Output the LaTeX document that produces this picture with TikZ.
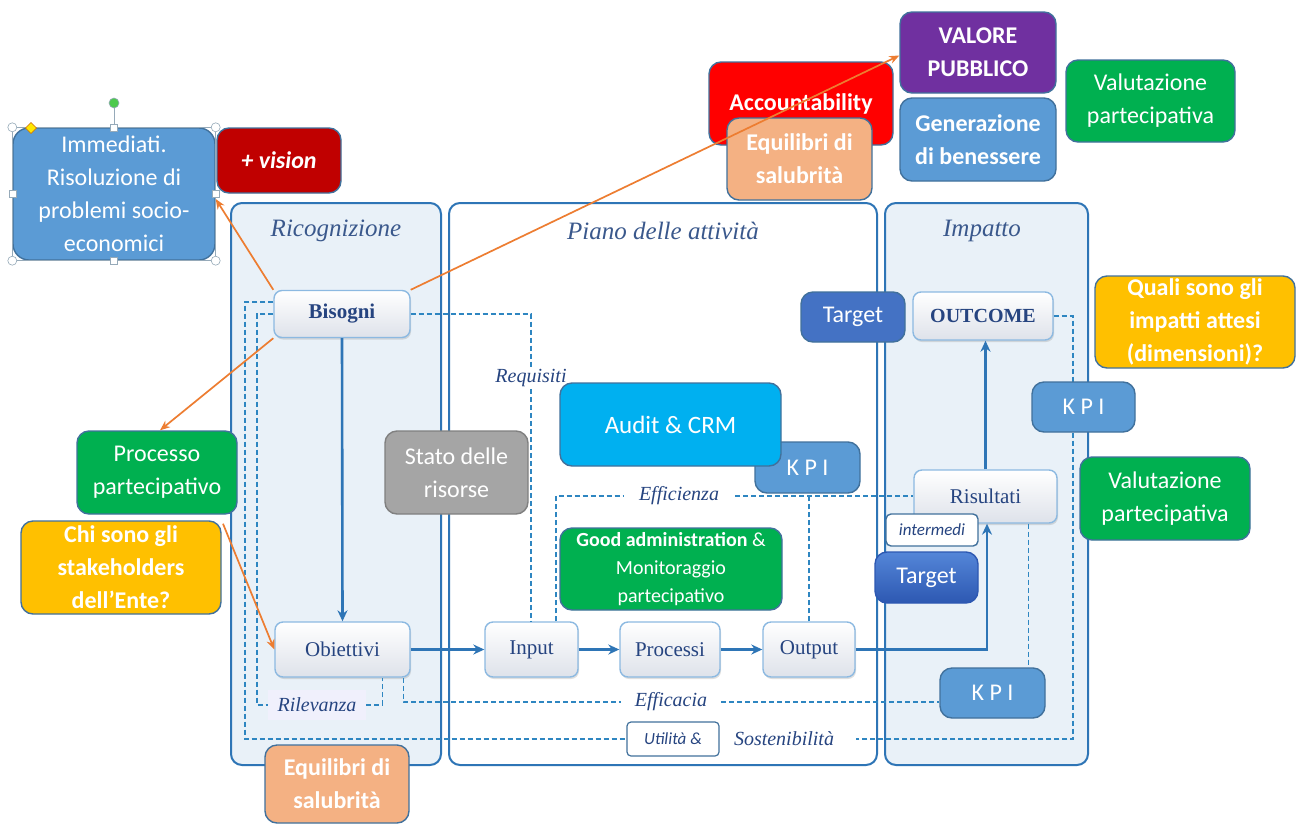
\documentclass[tikz,border=0pt]{standalone}
\usepackage{fontspec}
\setmainfont{Liberation Serif}
\newfontfamily\calf{Carlito}
\usetikzlibrary{calc,shadows,arrows.meta}
\definecolor{pnlB}{RGB}{46,117,182}
\definecolor{pnlF}{RGB}{233,241,248}
\definecolor{dashC}{RGB}{46,134,193}
\definecolor{titC}{RGB}{58,88,140}
\definecolor{labC}{RGB}{38,68,128}
\definecolor{orng}{RGB}{237,125,49}
\definecolor{bdr}{RGB}{65,113,156}
\definecolor{cblue}{RGB}{91,155,213}
\definecolor{cred}{RGB}{255,0,0}
\definecolor{cdred}{RGB}{192,0,0}
\definecolor{cpeach}{RGB}{244,177,131}
\definecolor{cpurp}{RGB}{112,48,160}
\definecolor{cgreen}{RGB}{0,176,80}
\definecolor{cgold}{RGB}{255,192,0}
\definecolor{cnavy}{RGB}{68,114,196}
\definecolor{cnavyT}{RGB}{84,134,216}
\definecolor{cnavyB}{RGB}{45,88,178}
\definecolor{ccyan}{RGB}{0,176,240}
\definecolor{cgray}{RGB}{165,165,165}
\definecolor{rilF}{RGB}{240,240,252}
\definecolor{wbd}{RGB}{140,185,225}
\definecolor{wbot}{RGB}{222,226,234}
\definecolor{hgray}{RGB}{150,170,185}
\begin{document}
\begin{tikzpicture}[x=1pt,y=-1pt,
  panel/.style={draw=pnlB, line width=2pt, rounded corners=11pt},
  dsh/.style={draw=dashC, line width=1.8pt, dash pattern=on 5pt off 3pt},
  flow/.style={draw=pnlB, line width=2.6pt, -{Stealth[length=11pt,width=10pt]}},
  oarr/.style={draw=orng, line width=1.7pt, -{Stealth[length=10pt,width=8pt]}},
  wbox/.style={rounded corners=8pt, draw=wbd, line width=1.4pt, top color=white, bottom color=wbot,
    text=labC, font=\fontsize{21}{24}\selectfont, inner sep=0pt,
    drop shadow={opacity=0.25,shadow xshift=1pt,shadow yshift=-2pt}},
  cbox/.style={rounded corners=12pt, draw=bdr, line width=1.4pt, text=white, align=center,
    inner sep=0pt, font=\calf\fontsize{24}{33}\selectfont},
  tit/.style={text=titC, font=\itshape\fontsize{25}{30}\selectfont},
  lbl/.style={text=labC, font=\itshape\fontsize{20}{24}\selectfont, inner ysep=2pt}
]
\useasboundingbox (0,0) rectangle (1298,825);
\fill[white] (0,0) rectangle (1298,825);

% panels
\draw[panel, fill=pnlF] (231,203) rectangle (441,765);
\draw[panel, fill=white] (449,203) rectangle (877,765);
\draw[panel, fill=pnlF] (885,203) rectangle (1088,765);
\node[tit] (tric) at (336,231) {Ricognizione};
\node[tit] (tpia) at (663,231) {Piano delle attività};
\node[tit] (timp) at (982,231) {Impatto};

% white process nodes
\node[wbox, minimum width=136pt, minimum height=47pt, font=\bfseries\fontsize{21}{24}\selectfont] (bis) at (342,314) {Bisogni};
\node[wbox, minimum width=135pt, minimum height=55pt] (obi) at (342.5,649.5) {Obiettivi};
\node[wbox, minimum width=93pt, minimum height=55pt] (inp) at (531.5,649.5) {Input};
\node[wbox, minimum width=100pt, minimum height=55pt] (pro) at (670,649.5) {Processi};
\node[wbox, minimum width=92pt, minimum height=55pt] (out) at (809,649.5) {Output};
\node[wbox, minimum width=143pt, minimum height=53pt] (ris) at (985.5,496.5) {Risultati};
\node[wbox, minimum width=140pt, minimum height=48pt, font=\bfseries\fontsize{20}{24}\selectfont] (outc) at (983,316) {OUTCOME};

% dashed labels
\node[lbl, inner xsep=2pt] (req) at (531,378) {Requisiti};
\node[lbl, inner xsep=16pt] (eff) at (679,496) {Efficienza};
\node[lbl, inner xsep=14pt] (effc) at (671,702) {Efficacia};
\node[lbl, inner xsep=22pt] (sost) at (784,739) {Sostenibilità};
\node[lbl, fill=rilF, minimum width=98pt, minimum height=30pt, inner sep=0pt] (ril) at (317,705) {Rilevanza};
\node[rounded corners=4pt, draw=bdr, line width=1.2pt, fill=white, minimum width=92pt, minimum height=34pt,
  inner sep=0pt, text=labC, font=\calf\itshape\fontsize{17}{20}\selectfont] (util) at (673,739) {Utilità \&};

% dashed connectors
\draw[dsh] ([yshift=12pt]bis.west) -| (245,739) -- (util.west);
\draw[dsh] (outc.east) -| (1073,739) -- (sost.east);
\draw[dsh] (bis.west) -| (257,705) -- (ril.west);
\draw[dsh] (ril.east) -| ([xshift=40pt]obi.south);
\draw[dsh] (bis.east) -| (req.north);
\draw[dsh] (req.south) -- (req.south |- inp.north);
\draw[dsh] ([xshift=24.5pt]inp.north) |- (eff.west);
\draw[dsh] (eff.east) -- (eff.east -| ris.west);
\draw[dsh] (out.north) -- (out.north |- eff.east);
\draw[dsh] ([xshift=61pt]obi.south) |- (effc.west);
\draw[dsh] ([xshift=43pt]ris.south) -- ([xshift=43pt]ris.south |- 0,668);

% solid flow
\draw[flow] (bis.south) -- (obi.north);
\draw[flow] (obi.east) -- (inp.west);
\draw[flow] (inp.east) -- (pro.west);
\draw[flow] (pro.east) -- (out.west);
\draw[flow] (out.east) -| ([xshift=1.5pt]ris.south);
\draw[flow] (ris.north) -- (ris.north |- outc.south);

% coloured boxes
\node[cbox, fill=cblue, minimum width=202pt, minimum height=132pt, rounded corners=16pt] (imm) at (114,194) {Immediati.\\Risoluzione di\\problemi socio-\\economici};
\node[cbox, fill=cdred, minimum width=124pt, minimum height=65pt, font=\calf\bfseries\itshape\fontsize{24}{30}\selectfont] (vis) at (279,160.5) {+ vision};
\node[cbox, fill=cred, minimum width=184pt, minimum height=83pt, font=\calf\bfseries\fontsize{24}{30}\selectfont] (acc) at (801,103.5) {Accountability};
\node[cbox, fill=cpeach, minimum width=145pt, minimum height=82pt, font=\calf\bfseries\fontsize{24}{33}\selectfont] (eqt) at (799.5,159) {Equilibri di\\salubrità};
\node[cbox, fill=cpurp, minimum width=156pt, minimum height=81pt, font=\calf\bfseries\fontsize{24}{33}\selectfont] (val) at (978,52.5) {VALORE\\PUBBLICO};
\node[cbox, fill=cblue, minimum width=156pt, minimum height=83pt, font=\calf\bfseries\fontsize{24}{33}\selectfont] (gen) at (978,139.5) {Generazione\\di benessere};
\node[cbox, fill=cgreen, minimum width=169pt, minimum height=82pt] (vpt) at (1150.5,101) {Valutazione\\partecipativa};
\node[cbox, fill=cnavy, minimum width=104pt, minimum height=50pt] (tg1) at (853,317) {Target};
\node[cbox, fill=cgold, minimum width=200pt, minimum height=92pt, font=\calf\bfseries\fontsize{24}{33}\selectfont] (qua) at (1195,322) {Quali sono gli\\impatti attesi\\(dimensioni)?};
\node[cbox, fill=cblue, minimum width=103pt, minimum height=50pt] (kp1) at (1083.5,407) {K P I};
\node[cbox, fill=cgreen, minimum width=170pt, minimum height=83pt] (vpm) at (1165,498.5) {Valutazione\\partecipativa};
\node[cbox, fill=cblue, minimum width=105pt, minimum height=51pt] (kp2) at (807.5,467.5) {K P I};
\node[cbox, fill=ccyan, minimum width=221pt, minimum height=83pt, font=\calf\fontsize{25}{33}\selectfont] (aud) at (670.5,424.5) {Audit \& CRM};
\node[cbox, fill=cgray, minimum width=143pt, minimum height=83pt, draw=gray] (sta) at (456.5,472.5) {Stato delle\\risorse};
\node[cbox, fill=cgreen, minimum width=222pt, minimum height=82pt, font=\calf\fontsize{20}{28}\selectfont] (goo) at (671,569) {\textbf{Good administration} \&\\Monitoraggio\\partecipativo};
\node[cbox, fill=white, rounded corners=5pt, minimum width=92pt, minimum height=32pt, text=labC, font=\calf\itshape\fontsize{17}{20}\selectfont] (int) at (932,530) {intermedi};
\node[cbox, top color=cnavyT, bottom color=cnavyB, draw=cnavyB, minimum width=103pt, minimum height=51pt] (tg2) at (926.5,577.5) {Target};
\node[cbox, fill=cblue, minimum width=105pt, minimum height=50pt] (kp3) at (992.5,693) {K P I};
\node[cbox, fill=cgreen, minimum width=160pt, minimum height=83pt] (prc) at (157,472.5) {Processo\\partecipativo};
\node[cbox, fill=cgold, minimum width=200pt, minimum height=93pt, font=\calf\bfseries\fontsize{24}{33}\selectfont] (chi) at (121,567.5) {Chi sono gli\\stakeholders\\dell’Ente?};
\node[cbox, fill=cpeach, minimum width=144pt, minimum height=78pt, font=\calf\bfseries\fontsize{24}{33}\selectfont] (eqb) at (337,784) {Equilibri di\\salubrità};

% Efficacia to KPI
\draw[dsh] (effc.east) -- (effc.east -| kp3.west);

% selection handles on Immediati box
\draw[hgray, line width=0.6pt] (imm.north west) rectangle (imm.south east);
\draw[hgray, line width=0.8pt] (imm.north) -- (114,103);
\fill[green!70!black!70!white, draw=hgray, line width=0.6pt] (114,103) circle (5pt);
\foreach \c in {north west,north east,south west,south east}
  \draw[hgray, fill=white, line width=0.6pt] (imm.\c) circle (4.5pt);
\foreach \c in {north,south,west,east}
  \draw[hgray, fill=white, line width=0.6pt] ([xshift=-3.5pt,yshift=-3.5pt]imm.\c) rectangle ([xshift=3.5pt,yshift=3.5pt]imm.\c);
\fill[yellow!90!orange, draw=orange!80!black, line width=0.4pt] (31,122.5) -- (36.5,128) -- (31,133.5) -- (25.5,128) -- cycle;

% orange arrows
\draw[oarr] (bis.north west) -- ([yshift=-5pt]imm.east);
\draw[oarr] (bis.south west) -- ([xshift=3pt]prc.north);
\draw[oarr] (bis.north east) -- ([yshift=-3pt]val.west);
\draw[oarr] ([xshift=66pt,yshift=-9pt]prc.south) -- (obi.west);
\end{tikzpicture}
\end{document}
